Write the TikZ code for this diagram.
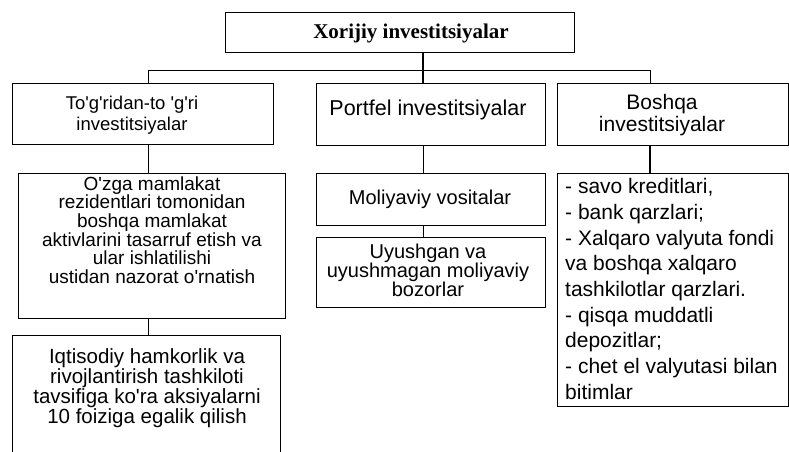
\documentclass[tikz,border=0pt]{standalone}
\usepackage{fontspec}
\setmainfont{Liberation Serif}
\newfontfamily\arialf{Liberation Sans}
\begin{document}
\begin{tikzpicture}[x=1pt,y=-1pt,
  box/.style={draw=black, line width=0.7pt, rectangle, inner sep=0pt},
  lbl/.style={inner sep=0pt, align=center},
  link/.style={draw=black, line width=0.8pt}]
\useasboundingbox (0,0) rectangle (789,452);
\clip (0,0) rectangle (789,452);
% boxes
\node[box, minimum width=349pt, minimum height=40pt] (top) at (399.5,32) {};
\node[box, minimum width=261pt, minimum height=61pt] (L1) at (142.5,113.5) {};
\node[box, minimum width=229pt, minimum height=62pt] (M1) at (430.5,114) {};
\node[box, minimum width=231pt, minimum height=62pt] (R1) at (672.5,114) {};
\node[box, minimum width=267pt, minimum height=145pt] (L2) at (151.5,245.5) {};
\node[box, minimum width=229pt, minimum height=52pt] (M2) at (430.5,199) {};
\node[box, minimum width=229pt, minimum height=70pt] (M3) at (430.5,272) {};
\node[box, minimum width=231pt, minimum height=233pt] (R2) at (672.5,289.5) {};
\node[box, minimum width=268pt, minimum height=135pt] (L3) at (146,402.5) {};
% texts
\node[lbl, font=\bfseries\fontsize{21}{24}\selectfont] (tTop) at (411,33) {Xorijiy investitsiyalar};
\node[lbl, font=\arialf\fontsize{18.5}{21}\selectfont] (tL1) at (132,115) {To'g'ridan-to 'g'ri\\investitsiyalar};
\node[lbl, font=\arialf\fontsize{21.5}{24}\selectfont] (tM1) at (428,110) {Portfel investitsiyalar};
\node[lbl, font=\arialf\fontsize{21}{21.5}\selectfont] (tR1) at (662,115) {Boshqa\\investitsiyalar};
\node[lbl, font=\arialf\fontsize{19}{18.6}\selectfont] (tL2) at (152,230) {O'zga mamlakat\\rezidentlari tomonidan\\boshqa mamlakat\\aktivlarini tasarruf etish va\\ular ishlatilishi\\ustidan nazorat o'rnatish};
\node[lbl, font=\arialf\fontsize{20}{22}\selectfont] (tM2) at (430,199) {Moliyaviy vositalar};
\node[lbl, font=\arialf\fontsize{20}{19}\selectfont] (tM3) at (428,270) {Uyushgan va\\uyushmagan moliyaviy\\bozorlar};
\node[lbl, font=\arialf\fontsize{20.5}{18.7}\selectfont] (tL3) at (147,388) {Iqtisodiy hamkorlik va\\rivojlantirish tashkiloti\\tavsifiga ko'ra aksiyalarni\\10 foiziga egalik qilish};
\node[inner sep=0pt, align=left, anchor=west, font=\arialf\fontsize{21}{25.7}\selectfont] (tR2) at (565,289) {- savo kreditlari,\\- bank qarzlari;\\- Xalqaro valyuta fondi\\va boshqa xalqaro\\tashkilotlar qarzlari.\\- qisqa muddatli\\depozitlar;\\- chet el valyutasi bilan\\bitimlar};
% connectors
\coordinate (jL) at (148,70);
\coordinate (jR) at (650,70);
\coordinate (jM) at (423,70);
\draw[link] (jL) -- (jR);
\draw[link, line width=1.2pt] (top.south -| jM) -- (M1.north -| jM);
\draw[link] (jL) -- (L1.north -| jL);
\draw[link] (jR) -- (R1.north -| jR);
\draw[link] (L1.south -| jL) -- (L2.north -| jL);
\draw[link] (L2.south -| jL) -- (L3.north -| jL);
\draw[link] (M1.south -| jM) -- (M2.north -| jM);
\draw[link] (M2.south -| jM) -- (M3.north -| jM);
\draw[link, line width=2.2pt] (R1.south -| jR) -- (R2.north -| jR);
\end{tikzpicture}
\end{document}
